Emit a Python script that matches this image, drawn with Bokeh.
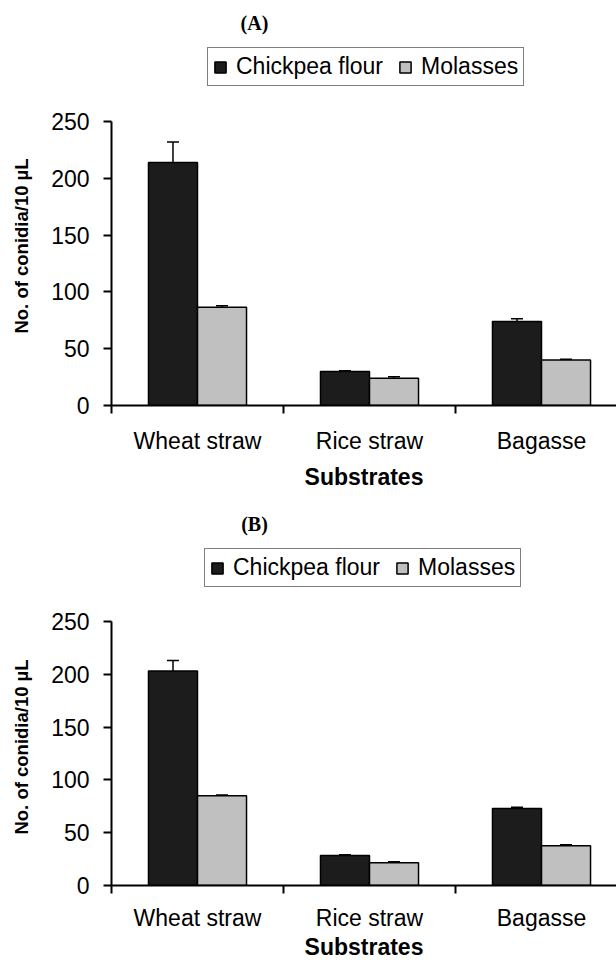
from bokeh.plotting import figure
from bokeh.models import (Range1d, FixedTicker, Whisker, TeeHead, Legend,
                          LegendItem, Label, ColumnDataSource)
from bokeh.layouts import column
from bokeh.embed import file_html
from bokeh.resources import INLINE

# ---------------- data ----------------
substrates = ["Wheat straw", "Rice straw", "Bagasse"]
series_names = ["Chickpea flour", "Molasses"]
y_ticks = [0, 50, 100, 150, 200, 250]

a_chickpea = [214, 30, 74]
a_chickpea_err = [18, 0.5, 2.4]
a_molasses = [86.5, 24, 40]
a_molasses_err = [1.2, 1.2, 0.8]

b_chickpea = [203, 28.5, 73]
b_chickpea_err = [10, 0.5, 1.2]
b_molasses = [85, 21.5, 37.7]
b_molasses_err = [0.6, 1.0, 1.0]

# ---------------- style ----------------
FONT = "Liberation Sans"
DARK = "#1c1c1c"
LIGHT = "#c0c0c0"
BAR_W = 0.285
OFF = 0.1425
W = 616
FRAME_LEFT = 111


def make_head(tag, height, tag_xy, legend_loc):
    """Panel tag and legend strip above a chart (frame aligned with chart)."""
    h = figure(width=W, height=height, output_backend="svg",
               toolbar_location=None, tools="",
               x_axis_type=None, y_axis_type=None,
               x_range=Range1d(FRAME_LEFT, W), y_range=Range1d(0, height),
               min_border=0, min_border_left=FRAME_LEFT)
    h.outline_line_color = None
    h.background_fill_color = "white"
    h.border_fill_color = "white"
    # legend-only renderers: a tiny bar tucked behind the opaque legend box
    lx = FRAME_LEFT + legend_loc[0] + 150
    ly = legend_loc[1] + 12
    r_c = h.vbar(x=[lx], bottom=[ly], top=[ly + 6], width=4,
                 fill_color=DARK, line_color="black", line_width=1.5)
    r_m = h.vbar(x=[lx], bottom=[ly], top=[ly + 6], width=4,
                 fill_color=LIGHT, line_color="black", line_width=1.5)
    legend = Legend(items=[LegendItem(label=series_names[0], renderers=[r_c]),
                           LegendItem(label=series_names[1], renderers=[r_m])],
                    orientation="horizontal", location=legend_loc,
                    border_line_color="black", border_line_width=1,
                    background_fill_color="white", background_fill_alpha=1,
                    glyph_width=14, glyph_height=14, label_standoff=9,
                    spacing=15, padding=5, margin=0,
                    label_text_font=FONT, label_text_font_size="23px",
                    label_text_color="black")
    h.add_layout(legend, "center")
    h.add_layout(Label(x=tag_xy[0], y=tag_xy[1], text=tag,
                       text_font="Liberation Serif", text_font_style="bold",
                       text_font_size="20px", text_align="center",
                       text_baseline="middle", text_color="black"))
    return h


def make_chart(chick, chick_err, mol, mol_err, height, border_bottom,
               x_end, y_end, tick_standoff, title_standoff):
    p = figure(width=W, height=height, output_backend="svg",
               toolbar_location=None, tools="",
               x_range=Range1d(0, x_end), y_range=Range1d(0, y_end),
               min_border_left=FRAME_LEFT, min_border_right=0,
               min_border_top=0, min_border_bottom=border_bottom)
    p.outline_line_color = None
    p.xgrid.grid_line_color = None
    p.ygrid.grid_line_color = None
    p.background_fill_color = "white"
    p.border_fill_color = "white"

    centers = [i + 0.5 for i in range(len(substrates))]
    src_c = ColumnDataSource(dict(
        x=[c - OFF for c in centers], top=chick,
        upper=[v + e for v, e in zip(chick, chick_err)]))
    src_m = ColumnDataSource(dict(
        x=[c + OFF for c in centers], top=mol,
        upper=[v + e for v, e in zip(mol, mol_err)]))

    p.vbar(x="x", top="top", width=BAR_W, source=src_c,
           fill_color=DARK, line_color="black", line_width=1.5)
    p.vbar(x="x", top="top", width=BAR_W, source=src_m,
           fill_color=LIGHT, line_color="black", line_width=1.5)

    for src in (src_c, src_m):
        w = Whisker(source=src, base="x", lower="top", upper="upper",
                    dimension="height", lower_head=None,
                    upper_head=TeeHead(size=12, line_width=1.5,
                                       line_color="black"),
                    line_width=1.5, line_color="black", level="overlay")
        p.add_layout(w)

    # x axis: labels at category centres, ticks at category boundaries
    xa = p.xaxis[0]
    xa.ticker = FixedTicker(ticks=centers,
                            minor_ticks=list(range(len(substrates) + 1)))
    xa.major_label_overrides = {c: s for c, s in zip(centers, substrates)}
    xa.major_tick_out = 0
    xa.major_tick_in = 0
    xa.minor_tick_out = 8
    xa.minor_tick_in = 0
    xa.minor_tick_line_width = 2
    xa.minor_tick_line_color = "black"
    xa.axis_line_width = 2
    xa.axis_line_color = "black"
    xa.major_label_text_font = FONT
    xa.major_label_text_font_size = "23px"
    xa.major_label_text_color = "black"
    xa.major_label_standoff = tick_standoff
    xa.axis_label = "Substrates"
    xa.axis_label_text_font = FONT
    xa.axis_label_text_font_size = "23px"
    xa.axis_label_text_font_style = "bold"
    xa.axis_label_text_color = "black"
    xa.axis_label_standoff = title_standoff

    ya = p.yaxis[0]
    ya.ticker = FixedTicker(ticks=y_ticks)
    ya.bounds = (y_ticks[0], y_ticks[-1])
    ya.major_tick_out = 8
    ya.major_tick_in = 0
    ya.minor_tick_out = 0
    ya.minor_tick_in = 0
    ya.major_tick_line_width = 2
    ya.axis_line_width = 2
    ya.axis_line_color = "black"
    ya.major_label_text_font = FONT
    ya.major_label_text_font_size = "23px"
    ya.major_label_text_color = "black"
    ya.major_label_standoff = 14
    ya.axis_label = "No. of conidia/10 \u00b5L"
    ya.axis_label_text_font = FONT
    ya.axis_label_text_font_size = "18.5px"
    ya.axis_label_text_font_style = "bold"
    ya.axis_label_text_color = "black"
    ya.axis_label_standoff = 16
    return p


headA = make_head("(A)", height=86, tag_xy=(254, 64), legend_loc=(96, 0))
chartA = make_chart(a_chickpea, a_chickpea_err, a_molasses, a_molasses_err,
                    height=414, border_bottom=95, x_end=2.936, y_end=280.8,
                    tick_standoff=14, title_standoff=7)
headB = make_head("(B)", height=108, tag_xy=(254, 85), legend_loc=(93, 21))
chartB = make_chart(b_chickpea, b_chickpea_err, b_molasses, b_molasses_err,
                    height=354, border_bottom=76, x_end=2.936, y_end=262.3,
                    tick_standoff=11, title_standoff=0)

layout = column(headA, chartA, headB, chartB, spacing=0)
open("out.html", "w").write(file_html(layout, INLINE))
